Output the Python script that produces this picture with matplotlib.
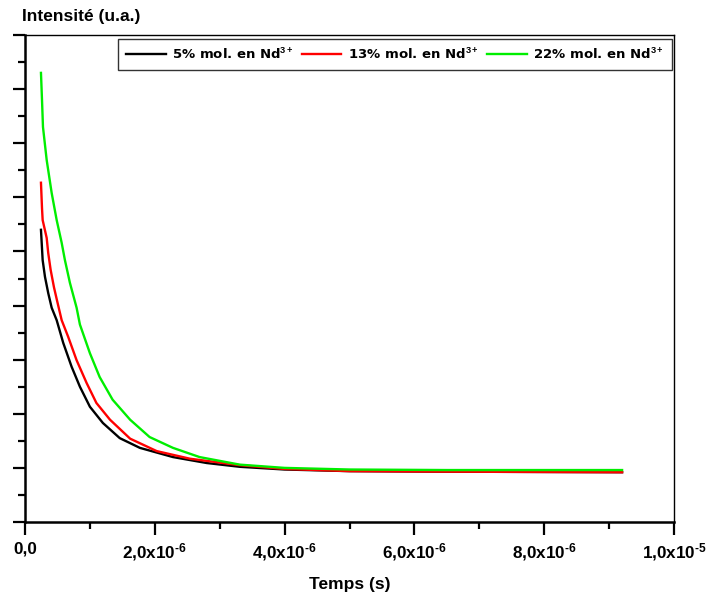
import matplotlib
matplotlib.use("Agg")
import matplotlib.pyplot as plt
from matplotlib.ticker import MultipleLocator, FixedLocator
import numpy as np

plt.rcParams['font.family'] = ['Liberation Sans', 'DejaVu Sans']
plt.rcParams['font.weight'] = 'bold'
plt.rcParams['mathtext.fontset'] = 'custom'
plt.rcParams['mathtext.rm'] = 'Liberation Sans:bold'
plt.rcParams['mathtext.it'] = 'Liberation Sans:bold'
plt.rcParams['mathtext.bf'] = 'Liberation Sans:bold'

# decay curves (time in microseconds, intensity in a.u.)
t_black = [0.246, 0.272, 0.308, 0.358, 0.411, 0.488, 0.589, 0.718, 0.846, 1.00, 1.20, 1.46, 1.77, 2.28, 2.80, 3.31, 4.00, 5.00, 6.50, 9.20]
y_black = [5.40, 4.84, 4.53, 4.23, 3.96, 3.73, 3.31, 2.87, 2.50, 2.13, 1.83, 1.55, 1.37, 1.20, 1.09, 1.02, 0.97, 0.94, 0.93, 0.92]

t_red = [0.246, 0.262, 0.272, 0.334, 0.358, 0.395, 0.446, 0.492, 0.565, 0.666, 0.795, 0.949, 1.10, 1.31, 1.62, 2.03, 2.54, 3.31, 4.00, 5.00, 6.50, 9.20]
y_red = [6.27, 5.80, 5.58, 5.25, 4.97, 4.66, 4.34, 4.10, 3.73, 3.42, 2.99, 2.57, 2.20, 1.89, 1.54, 1.31, 1.17, 1.05, 0.98, 0.94, 0.93, 0.92]

t_green = [0.246, 0.262, 0.277, 0.334, 0.411, 0.488, 0.565, 0.615, 0.692, 0.795, 0.846, 1.00, 1.15, 1.35, 1.62, 1.92, 2.28, 2.69, 3.31, 4.00, 5.00, 6.50, 9.20]
y_green = [8.30, 7.80, 7.30, 6.69, 6.08, 5.58, 5.16, 4.84, 4.42, 3.96, 3.65, 3.12, 2.68, 2.26, 1.89, 1.57, 1.37, 1.20, 1.06, 1.00, 0.97, 0.96, 0.96]

labels = ['5% mol. en Nd$^{3+}$', '13% mol. en Nd$^{3+}$', '22% mol. en Nd$^{3+}$']
colors = ['black', 'red', '#00ee00']

xticks = [0, 2e-6, 4e-6, 6e-6, 8e-6, 1e-5]
xtick_labels = ['0,0', '2,0x10$^{\u20106}$', '4,0x10$^{\u20106}$', '6,0x10$^{\u20106}$',
                '8,0x10$^{\u20106}$', '1,0x10$^{\u20105}$']

fig = plt.figure(figsize=(7.08, 6.01), dpi=100)
ax = fig.add_axes([25/708, 1 - 522/601, (674 - 25)/708, (522 - 35)/601])

for t, y, lab, c in zip([t_black, t_red, t_green], [y_black, y_red, y_green], labels, colors):
    ax.plot(np.array(t) * 1e-6, y, color=c, lw=1.7, label=lab)

ax.set_xlim(0, 1e-5)
ax.set_ylim(0, 9)
ax.xaxis.set_major_locator(FixedLocator(xticks))
ax.set_xticklabels(xtick_labels, fontsize=12.3, fontweight='bold')
ax.xaxis.set_minor_locator(MultipleLocator(1e-6))
ax.yaxis.set_major_locator(MultipleLocator(1))
ax.yaxis.set_minor_locator(MultipleLocator(0.5))
ax.set_yticklabels([])

ax.tick_params(which='major', direction='out', length=9, width=1.6, pad=5)
ax.tick_params(which='minor', direction='out', length=5, width=1.6)
ax.spines['left'].set_linewidth(1.8)
ax.spines['bottom'].set_linewidth(1.8)
ax.spines['top'].set_linewidth(1.0)
ax.spines['right'].set_linewidth(1.0)

ax.set_xlabel('Temps (s)', fontsize=12.5, fontweight='bold', labelpad=10)
fig.text(22/708, 1 - 16/601, 'Intensité (u.a.)', fontsize=12.5, fontweight='bold', va='center', ha='left')

leg = ax.legend(loc='upper right', ncol=3, frameon=True, fancybox=False,
                bbox_to_anchor=(1.0 - 2/649, 1.0 - 4/487), borderaxespad=0,
                handlelength=3.0, handletextpad=0.5, columnspacing=0.6, borderpad=0.6,
                prop={'family': 'DejaVu Sans', 'weight': 'bold', 'size': 9.5})
leg.get_frame().set_edgecolor('black')
leg.get_frame().set_linewidth(1.0)

fig.savefig('out.png', dpi=100)
